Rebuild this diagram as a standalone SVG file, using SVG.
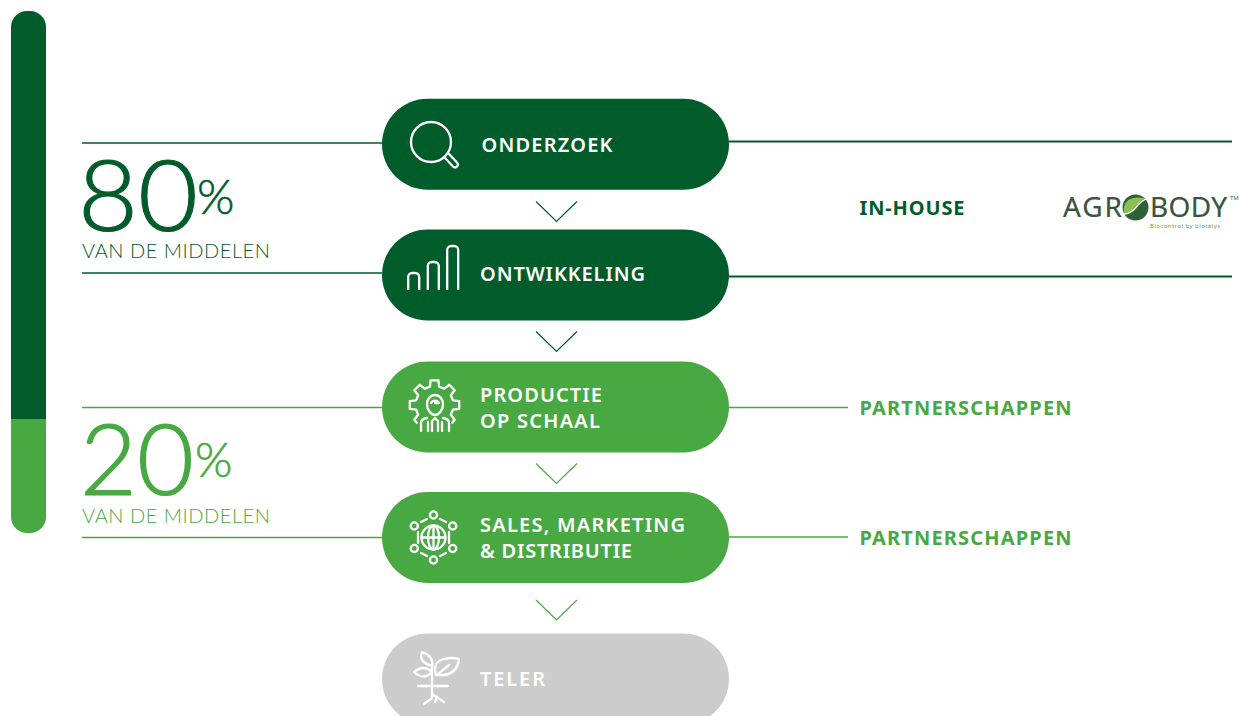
<svg xmlns="http://www.w3.org/2000/svg" width="1242" height="716" viewBox="0 0 1242 716">
<style>
text{font-family:"Noto Sans","Open Sans","Liberation Sans",sans-serif}
.lbl{font-size:20px;font-weight:600;fill:#fff}
.side{font-size:20px;font-weight:700}
.big{font-family:Lato,"Noto Sans",sans-serif;font-weight:300;font-size:98px;stroke-width:1.2px}
.pct{font-family:Lato,"Noto Sans",sans-serif;font-weight:300;font-size:48px;stroke-width:.6px}
.sub{font-family:Lato,"Noto Sans",sans-serif;font-weight:300;font-size:20px;letter-spacing:.55px;stroke-width:.3px}
.logo{font-size:28px;fill:#3a5443;stroke:#3a5443;stroke-width:.2px}
.ic{fill:none;stroke:#fff;stroke-width:2.3;stroke-linecap:round;stroke-linejoin:round}
.d{stroke:#005c2a;fill:none}.g{stroke:#48a942;fill:none}
</style>
<g id="bar"><path d="M46 419V27a16 16 0 0 0-16-16h-3a16 16 0 0 0-16 16V419z" fill="#005c2a"/><path d="M11 419V517a16 16 0 0 0 16 16h3a16 16 0 0 0 16-16V419z" fill="#48a942"/></g>
<g id="connectors">
<path class="d" stroke-width="1.3" d="M82 143H382M82 273H382"/>
<path class="d" stroke-width="2.2" d="M729 141.500H1232M729 276.500H1232"/>
<path class="g" stroke-width="1.3" d="M82 407.500H382M82 537.500H382M729 407.500H848M729 537H848"/>
<path class="d" stroke-width="1.2" d="M536 201.500L556.500 221.500L577 201.500M536 331.500L556.500 351.500L577 331.500"/>
<path class="g" stroke-width="1.2" d="M536 463.500L556.500 483.500L577 463.500M536 600L556.500 620L577 600"/>
</g>
<g id="stat80"><text class="big" x="78" y="230.500" fill="#005c2a" stroke="#005c2a" textLength="120" lengthAdjust="spacingAndGlyphs">80</text><text class="pct" x="197" y="214" fill="#005c2a" stroke="#005c2a">%</text><text class="sub" x="82" y="258" fill="#005c2a">VAN DE MIDDELEN</text></g>
<g id="stat20"><text class="big" x="80" y="495" fill="#48a942" stroke="#48a942" textLength="114" lengthAdjust="spacingAndGlyphs">20</text><text class="pct" x="195" y="477" fill="#48a942" stroke="#48a942">%</text><text class="sub" x="82" y="523" fill="#48a942">VAN DE MIDDELEN</text></g>
<g id="onderzoek"><rect x="382" y="98.700" width="347" height="91" rx="45.500" fill="#005c2a"/>
<g class="ic"><circle cx="431" cy="142" r="20"/><path d="M445 158L453 166.500a2.700 2.700 0 0 0 4-4L449 154"/></g>
<text class="lbl" x="481.500" y="152" textLength="131" lengthAdjust="spacing">ONDERZOEK</text></g>
<g id="ontwikkeling"><rect x="382" y="229.500" width="347" height="91" rx="45.500" fill="#005c2a"/>
<path class="ic" style="stroke-linecap:butt" d="M408.200 290V277a4 4 0 0 1 4-4h3a4 4 0 0 1 4 4V290M427.800 290V266a4 4 0 0 1 4-4h3a4 4 0 0 1 4 4V290M447.200 290V250a4 4 0 0 1 4-4h3a4 4 0 0 1 4 4V290"/>
<text class="lbl" x="480" y="281" textLength="165" lengthAdjust="spacing">ONTWIKKELING</text></g>
<g id="productie"><rect x="382" y="361.500" width="347" height="91" rx="45.500" fill="#48a942"/>
<g class="ic"><path d="M416.800 422.700L414.300 419.700L418.200 414.800L416.100 409.600L409.800 408.900V401.100L416.100 400.400L418.200 395.200L414.300 390.300L419.800 384.800L424.700 388.700L429.900 386.600L430.600 380.300H438.400L439.100 386.600L444.300 388.700L449.200 384.800L454.700 390.300L450.800 395.200L452.900 400.400L459.200 401.100V408.900L452.900 409.600L450.800 414.800L454.700 419.700L452.200 422.700"/><path d="M427 404c0-5 3.500-9 8-9s8 4 8 9c0 6-4 11-8 11s-8-5-8-11z"/><path d="M431 403a4.500 4.500 0 0 1 8 0h-4M421 431V423q0-4 6-5M449 431V423q0-4-6-5M428 431V422M442 431V422M432 431V421l3-3l3 3V431"/></g>
<text class="lbl" x="480" y="402" textLength="122" lengthAdjust="spacing">PRODUCTIE</text><text class="lbl" x="480" y="428" textLength="120" lengthAdjust="spacing">OP SCHAAL</text></g>
<g id="sales"><rect x="382" y="492" width="347" height="91" rx="45.500" fill="#48a942"/>
<g class="ic"><circle cx="433.500" cy="537.500" r="12"/><ellipse cx="433.500" cy="537.500" rx="5.500" ry="12"/><path d="M421.500 537.500H445.500M433.500 525.500V549.500"/><circle cx="433.500" cy="515" r="3.600"/><circle cx="433.500" cy="560" r="3.600"/><circle cx="414.300" cy="526" r="3.600"/><circle cx="452.700" cy="526" r="3.600"/><circle cx="414.300" cy="548.500" r="3.600"/><circle cx="452.700" cy="548.500" r="3.600"/><path d="M421 522L427 519M440 519L446 522M421 553L427 556M440 556L446 553M418 532V543M449 532V543"/></g>
<text class="lbl" x="480" y="532" textLength="205" lengthAdjust="spacing">SALES, MARKETING</text><text class="lbl" x="480" y="558" textLength="152" lengthAdjust="spacing">&amp; DISTRIBUTIE</text></g>
<g id="teler"><rect x="382" y="633.500" width="347" height="91" rx="45.500" fill="#cccccc"/>
<g class="ic"><path d="M432 686V665M432 672Q424 664 414 672Q424 681 432 672zM432 666Q434 656 422 652Q418 662 432 666zM436 675Q432 662 444 659Q452 657 459 659Q457 677 436 675zM437 675L449 665M418 686H448M432 687V698M432 698L424 704M432 694L444 702M437 697L435 702"/></g>
<text class="lbl" x="480" y="686" textLength="65" lengthAdjust="spacing">TELER</text></g>
<g id="inhouse"><text class="side" x="859.500" y="215" fill="#005c2a" textLength="105" lengthAdjust="spacing">IN-HOUSE</text></g>
<g id="agrobody"><text class="logo" x="1063" y="217" textLength="59" lengthAdjust="spacing">AGR</text><circle cx="1135.500" cy="207.500" r="13" fill="#2f6136"/><path d="M1124 214C1122 202 1130 195 1145 198.500C1139 201 1137 206 1133 209C1130 212 1127 213 1124 214z" fill="#8cc152"/><path d="M1124 214C1131 214 1135 209 1138 205C1141 201 1144 200 1146 199" fill="none" stroke="#fff" stroke-width="1.500"/><text class="logo" x="1150" y="217" textLength="77" lengthAdjust="spacing">BODY</text><text x="1230" y="200" font-size="6" fill="#555">TM</text><text x="1150" y="228" font-size="6" textLength="70" lengthAdjust="spacing" fill="#6a9a55">Biocontrol by biotalys</text></g>
<g id="partner1"><text class="side" x="859.500" y="415" fill="#48a942" textLength="212" lengthAdjust="spacing">PARTNERSCHAPPEN</text></g>
<g id="partner2"><text class="side" x="859.500" y="545" fill="#48a942" textLength="212" lengthAdjust="spacing">PARTNERSCHAPPEN</text></g>
</svg>
